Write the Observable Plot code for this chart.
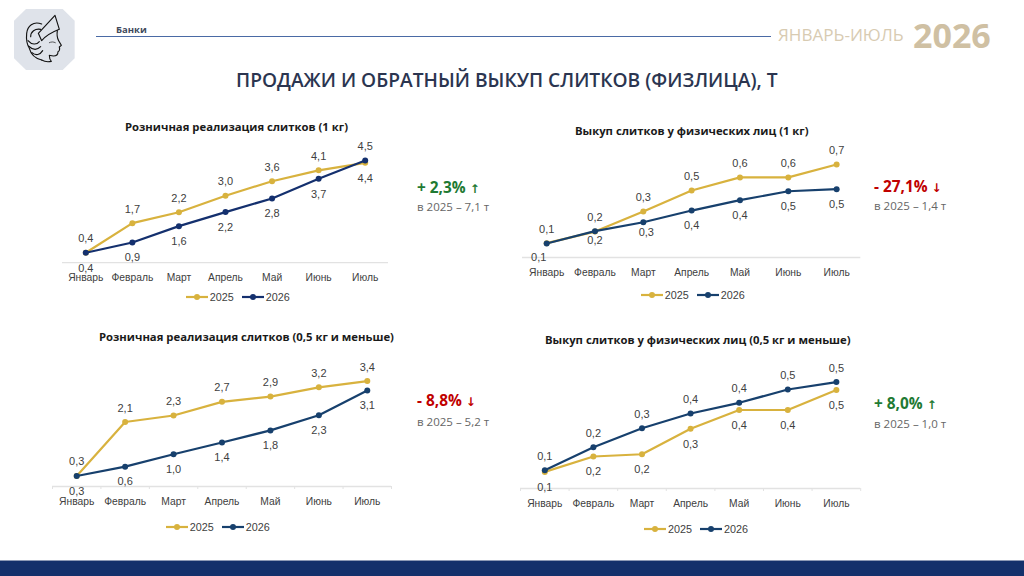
<!DOCTYPE html>
<html lang="ru">
<head>
<meta charset="utf-8">
<script src="https://cdn.jsdelivr.net/npm/d3@7"></script>
<script src="https://cdn.jsdelivr.net/npm/@observablehq/plot@0.6"></script>
<style>
html,body{margin:0;padding:0;width:1024px;height:576px;overflow:hidden;background:#fff;font-family:"Open Sans",sans-serif}
.abs{position:absolute;white-space:nowrap;line-height:1}
.plot{position:absolute}
.ctitle{font-weight:700;font-size:11.3px;color:#1a1a1a;transform:translateY(-50%)}
.big{font-weight:700;font-size:15.4px;transform:translateY(-50%)}
.big .arr{font-size:12px;font-family:"DejaVu Sans";font-weight:700}
.sub{font-size:11.5px;color:#666;transform:translateY(-50%)}
.legend{position:absolute;display:flex;align-items:center;font:10.8px "Liberation Sans",sans-serif;color:#404040;height:12px;transform:translateY(-50%)}
.legend svg{display:block;margin-right:2px}
.legend span{margin-right:8px}
</style>
</head>
<body>
<div id="page"></div>
<script>
const months = ["Январь","Февраль","Март","Апрель","Май","Июнь","Июль"];

const retail1kg2025 = [0.44,1.74,2.22,2.95,3.59,4.07,4.40];
const retail1kg2026 = [0.44,0.89,1.61,2.23,2.83,3.70,4.50];
const buyback1kg2025 = [0.108,0.195,0.346,0.504,0.602,0.602,0.699];
const buyback1kg2026 = [0.105,0.198,0.265,0.353,0.431,0.498,0.514];
const retailSmall2025 = [0.34,2.08,2.29,2.73,2.90,3.20,3.40];
const retailSmall2026 = [0.34,0.64,1.04,1.42,1.81,2.30,3.10];
const buybackSmall2025 = [0.081,0.156,0.167,0.291,0.383,0.383,0.481];
const buybackSmall2026 = [0.089,0.201,0.294,0.366,0.418,0.483,0.519];

const GOLD = "#d8b23e";
const fmt = v => v.toFixed(1).replace(".", ",");

const charts = [
  {title:"Розничная реализация слитков (1 кг)", s25:retail1kg2025, s26:retail1kg2026, navy:"#14306e",
   left:62, width:326, axisY:262.3, yMax:6, plotH:136.2, titleX:125, titleY:126.5, legendX:185.7, legendY:297,
   high:2025, flip:[6], ticks:false, nudge:{},
   big:"+ 2,3%", arrow:"↑", color:"#1f7a33", sub:"в 2025 – 7,1 т", calloutX:417, bigY:188, subY:207},
  {title:"Выкуп слитков у физических лиц (1 кг)", s25:buyback1kg2025, s26:buyback1kg2026, navy:"#17406d",
   left:521.5, width:338.3, axisY:257, yMax:1, plotH:133, titleX:575, titleY:130.5, legendX:640.7, legendY:295,
   high:2025, flip:[], ticks:false, nudge:{"2026-0":{dx:-8,dy:13.5},"2026-1":{dy:9.5},"2026-2":{dx:3,dy:10.5}},
   big:"- 27,1%", arrow:"↓", color:"#c00000", sub:"в 2025 – 1,4 т", calloutX:874, bigY:187, subY:206},
  {title:"Розничная реализация слитков (0,5 кг и меньше)", s25:retailSmall2025, s26:retailSmall2026, navy:"#17406d",
   left:51.5, width:339, axisY:486.3, yMax:4, plotH:124, titleX:99, titleY:336.5, legendX:165.7, legendY:527.3,
   high:2025, flip:[], ticks:true, nudge:{},
   big:"- 8,8%", arrow:"↓", color:"#c00000", sub:"в 2025 – 5,2 т", calloutX:417, bigY:401, subY:422},
  {title:"Выкуп слитков у физических лиц (0,5 кг и меньше)", s25:buybackSmall2025, s26:buybackSmall2026, navy:"#17406d",
   left:520.4, width:340.2, axisY:488.3, yMax:0.6, plotH:123, titleX:545, titleY:339.5, legendX:644, legendY:528.7,
   high:2026, flip:[], ticks:true, nudge:{},
   big:"+ 8,0%", arrow:"↑", color:"#1f7a33", sub:"в 2025 – 1,0 т", calloutX:874, bigY:404, subY:424}
];

const page = document.getElementById("page");
function add(html){ page.insertAdjacentHTML("beforeend", html); }

// header
add(`<svg class="plot" style="left:0;top:0" width="90" height="80" viewBox="0 0 270 240" fill="none" stroke="#111" stroke-width="3.4" stroke-linejoin="round" stroke-linecap="round">
  <polygon points="42,62 78,27 188,27 224,62 224,175 188,210 78,210 42,175" fill="#dfe3ea" stroke="none"/>
  <path d="M165,46 L178,88 C160,95 135,110 125,122 L115,100 Z"/>
  <path d="M125,72 C100,62 82,78 80,100 C78,120 82,135 88,145 C92,160 105,175 125,180"/>
  <path d="M122,88 C105,85 92,95 92,110 M84,122 C95,135 110,135 118,125 M85,138 C98,150 112,150 122,140 M96,158 C108,168 120,165 128,152"/>
  <path d="M172,92 C170,105 172,115 176,122 L184,136 L178,141 C180,148 178,153 174,155 C174,162 170,168 160,168 C154,168 150,166 148,166 C148,172 150,180 154,184 M125,180 C135,186 145,186 154,184"/>
  <path d="M148,128 C154,125 160,125 166,128" stroke-width="2"/>
</svg>`);
add(`<div class="abs" style="left:116px;top:30px;transform:translateY(-50%);font-size:9.5px;font-weight:700;color:#3f4a5c">Банки</div>`);
add(`<div class="abs" style="left:96px;top:36px;width:675px;height:1px;background:#4a6aa5"></div>`);
add(`<div class="abs" style="left:778px;top:35px;transform:translateY(-50%);font-size:17.1px;color:#d8cbb2">ЯНВАРЬ-ИЮЛЬ</div>`);
add(`<div class="abs" style="left:913px;top:35px;transform:translateY(-50%);font-size:34px;font-weight:700;color:#cfc0a3">2026</div>`);
add(`<div class="abs" style="left:236px;top:80px;transform:translateY(-50%);font-size:19.2px;font-weight:600;color:#2b3550">ПРОДАЖИ И ОБРАТНЫЙ ВЫКУП СЛИТКОВ (ФИЗЛИЦА), Т</div>`);
add(`<div class="abs" style="left:0;top:560px;width:1024px;height:1px;background:#8c99b5"></div>`);
add(`<div class="abs" style="left:0;top:561px;width:1024px;height:15px;background:#13306b"></div>`);

function drawChart(c){
  const marginTop = 10, marginBottom = 30;
  const step = c.width / months.length;
  const series = [
    {year:2025, values:c.s25, color:GOLD},
    {year:2026, values:c.s26, color:c.navy}
  ];
  const marks = [Plot.ruleY([0],{stroke:"#e2e2e2",strokeWidth:1.3})];
  if (c.ticks) {
    marks.push(Plot.axisX({ticks:months,text:null,tickSize:3,stroke:"#e2e2e2",dx:-step/2,label:null}));
    marks.push(Plot.axisX({ticks:[months[6]],text:null,tickSize:3,stroke:"#e2e2e2",dx:step/2,label:null}));
  }
  marks.push(Plot.axisX({ticks:months,tickSize:0,tickPadding:11,fontSize:10.3,fill:"#404040",label:null}));
  for (const s of series) {
    const rows = months.map((m,i)=>({month:m,value:s.values[i],i}));
    marks.push(Plot.line(rows,{x:"month",y:"value",stroke:s.color,strokeWidth:2.2}));
    marks.push(Plot.dot(rows,{x:"month",y:"value",fill:s.color,r:3}));
  }
  for (const s of series) {
    months.forEach((m,i)=>{
      const above = (s.year === c.high) !== c.flip.includes(i);
      const n = c.nudge[s.year+"-"+i] || {};
      marks.push(Plot.text([{month:m,value:s.values[i]}],{
        x:"month",y:"value",text:d=>fmt(d.value),
        dx:n.dx||0, dy:n.dy!==undefined?n.dy:(above?-14:15.3),
        fontSize:11, fill:"#404040"
      }));
    });
  }
  const el = Plot.plot({
    width:c.width, height:c.plotH+marginTop+marginBottom,
    marginLeft:0, marginRight:0, marginTop, marginBottom,
    x:{type:"band",domain:months,padding:0,round:false,label:null},
    y:{domain:[0,c.yMax],axis:null,label:null},
    style:{fontFamily:"'Liberation Sans',sans-serif",background:"transparent",overflow:"visible"},
    marks
  });
  el.setAttribute("class","plot");
  el.style.left = c.left+"px";
  el.style.top = (c.axisY-c.plotH-marginTop)+"px";
  page.appendChild(el);

  add(`<div class="abs ctitle" style="left:${c.titleX}px;top:${c.titleY}px">${c.title}</div>`);
  const sw = col => `<svg width="22" height="6"><line x1="0" x2="22" y1="3" y2="3" stroke="${col}" stroke-width="2.2"/><circle cx="11" cy="3" r="3" fill="${col}"/></svg>`;
  add(`<div class="legend" style="left:${c.legendX}px;top:${c.legendY}px">${sw(GOLD)}<span>2025</span>${sw(c.navy)}<span>2026</span></div>`);
  add(`<div class="abs big" style="left:${c.calloutX}px;top:${c.bigY}px;color:${c.color}">${c.big} <span class="arr">${c.arrow}</span></div>`);
  add(`<div class="abs sub" style="left:${c.calloutX}px;top:${c.subY}px">${c.sub}</div>`);
}
charts.forEach(drawChart);
</script>
</body>
</html>
